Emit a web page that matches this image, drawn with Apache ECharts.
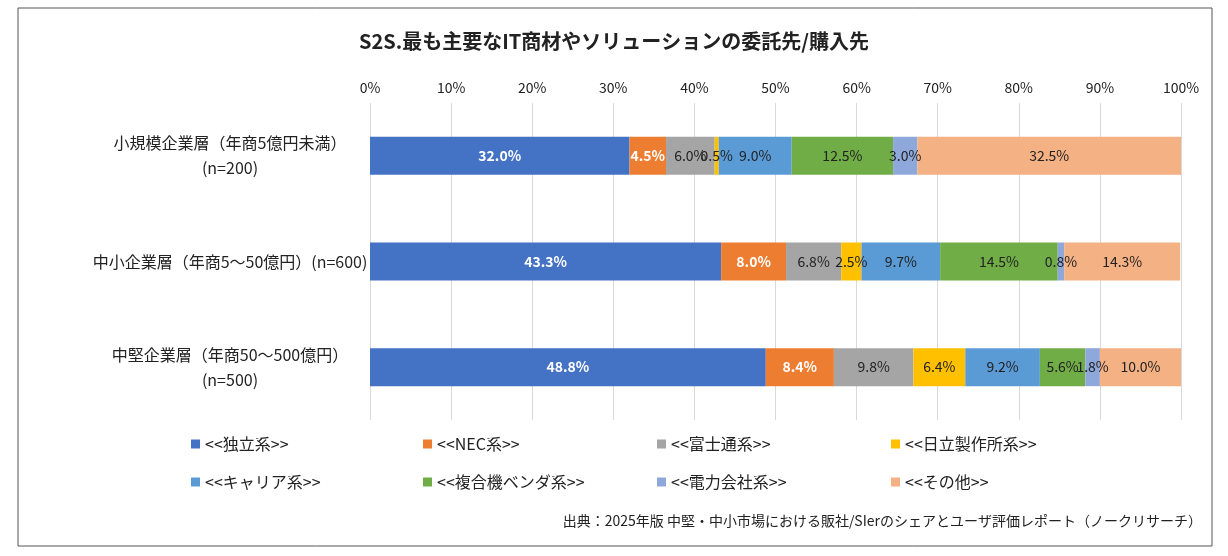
<!DOCTYPE html>
<html><head><meta charset="utf-8">
<script src="https://cdn.jsdelivr.net/npm/echarts@6/dist/echarts.min.js"></script>
<style>html,body{margin:0;padding:0;background:#fff}#c{width:1228px;height:556px}</style>
</head><body><div id="c"></div>
<script>
const categories = ['小規模企業層（年商5億円未満）\n(n=200)', '中小企業層（年商5～50億円）(n=600)', '中堅企業層（年商50～500億円）\n(n=500)'];
const seriesNames = ['<<独立系>>','<<NEC系>>','<<富士通系>>','<<日立製作所系>>','<<キャリア系>>','<<複合機ベンダ系>>','<<電力会社系>>','<<その他>>'];
const colors = ['#4472C4','#ED7D31','#A5A5A5','#FFC000','#5B9BD5','#70AD47','#8FA8DC','#F4B183'];
const dokuritsu = [32.0, 43.3, 48.8];
const nec = [4.5, 8.0, 8.4];
const fujitsu = [6.0, 6.8, 9.8];
const hitachi = [0.5, 2.5, 6.4];
const carrier = [9.0, 9.7, 9.2];
const fukugouki = [12.5, 14.5, 5.6];
const denryoku = [3.0, 0.8, 1.8];
const sonota = [32.5, 14.3, 10.0];
const values = [dokuritsu, nec, fujitsu, hitachi, carrier, fukugouki, denryoku, sonota];
const font = '"Noto Sans CJK JP", sans-serif';
const chart = echarts.init(document.getElementById('c'));
const legendLeft = [186, 418, 652, 886];
chart.setOption({
  animation:false,
  textStyle:{fontFamily:font},
  title:{text:'S2S.最も主要なIT商材やソリューションの委託先/購入先',left:'center',top:26,textStyle:{fontSize:20,fontWeight:'bold',color:'#222',fontFamily:font}},
  graphic:[
    {type:'rect',shape:{x:18,y:8,width:1194,height:538},style:{fill:'none',stroke:'#555',lineWidth:1}},
    {type:'text',right:26,top:514,style:{text:'出典：2025年版 中堅・中小市場における販社/SIerのシェアとユーザ評価レポート（ノークリサーチ）',fontSize:14,fill:'#222',fontFamily:font}}
  ],
  grid:{left:370,right:47,top:103,bottom:136},
  xAxis:{type:'value',position:'top',min:0,max:100,interval:10,
    axisLabel:{formatter:'{value}%',fontSize:14,color:'#222'},
    splitLine:{lineStyle:{color:'#d9d9d9'}},axisLine:{show:false},axisTick:{show:false}},
  yAxis:{type:'category',inverse:true,data:categories,
    axisLabel:{fontSize:16,color:'#222',align:'center',margin:140,lineHeight:25},
    axisLine:{show:false},axisTick:{show:false}},
  legend: seriesNames.map((n,i)=>({data:[n],left:legendLeft[i%4],top:i<4?431:469,itemWidth:9,itemHeight:9,icon:'rect',
     textStyle:{fontSize:16,color:'#222'}})),
  series: seriesNames.map((n,i)=>({
    name:n,type:'bar',stack:'a',barWidth:38,data:values[i],
    itemStyle:{color:colors[i]},
    label:{show:true,position:'inside',formatter:p=>p.value.toFixed(1)+'%',fontSize:14,
      color:i===0?'#fff':(i===1?'#fff':'#222'),fontWeight:i<2?'bold':'normal'}
  }))
});
</script></body></html>
